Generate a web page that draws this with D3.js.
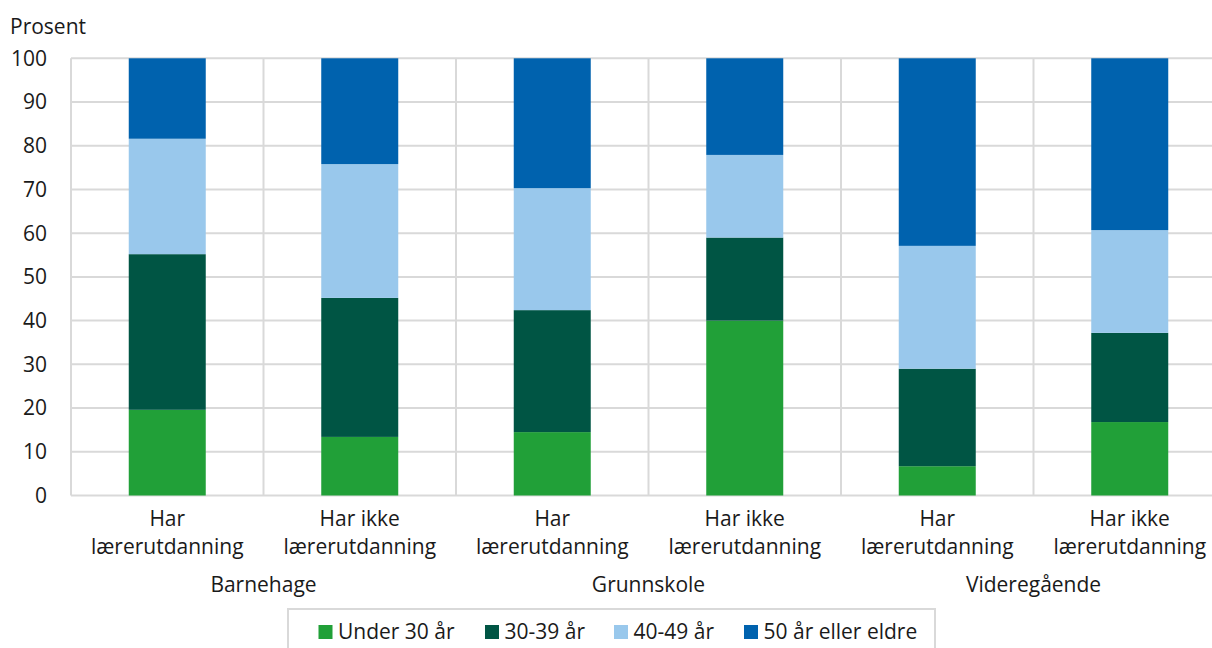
<!DOCTYPE html>
<html>
<head>
<meta charset="utf-8">
<script src="https://cdn.jsdelivr.net/npm/d3@7"></script>
<style>
  html, body { margin: 0; padding: 0; background: #fff; }
  svg { display: block; }
  text { font-family: "Open Sans", sans-serif; fill: #1a1a1a; }
</style>
</head>
<body>
<svg id="chart" width="1212" height="648"></svg>
<script>
const groups = ["Barnehage", "Grunnskole", "Videregående"];
const categories = ["bh-har", "bh-ikke", "gs-har", "gs-ikke", "vg-har", "vg-ikke"];
const categoryLines = [
  ["Har", "lærerutdanning"], ["Har ikke", "lærerutdanning"],
  ["Har", "lærerutdanning"], ["Har ikke", "lærerutdanning"],
  ["Har", "lærerutdanning"], ["Har ikke", "lærerutdanning"]
];
const seriesNames = ["Under 30 år", "30-39 år", "40-49 år", "50 år eller eldre"];
const under30 = [19.6, 13.4, 14.5, 40.0, 6.7, 16.8];
const age30_39 = [35.6, 31.8, 27.9, 19.0, 22.3, 20.4];
const age40_49 = [26.4, 30.6, 27.9, 18.9, 28.1, 23.5];
const age50plus = [18.4, 24.2, 29.7, 22.1, 42.9, 39.3];
const yTicks = [0, 10, 20, 30, 40, 50, 60, 70, 80, 90, 100];
const colors = ["#21a038", "#005544", "#99c8ec", "#0062ae"];

const seriesValues = [under30, age30_39, age40_49, age50plus];
const table = categories.map((c, i) => {
  const row = { cat: c };
  seriesNames.forEach((s, j) => row[s] = seriesValues[j][i]);
  return row;
});

const svg = d3.select("#chart");
const pLeft = 71, pRight = 1226, pTop = 58.3, pBottom = 495.5;
const grid = "#d9d9d9";

const x = d3.scaleBand().domain(categories).range([pLeft, pRight])
  .paddingInner(0.6).paddingOuter(0.3);
const y = d3.scaleLinear().domain([0, 100]).range([pBottom, pTop]);
const step = x.step();

// horizontal gridlines
svg.append("g").selectAll("line").data(yTicks).join("line")
  .attr("x1", pLeft).attr("x2", pRight)
  .attr("y1", d => y(d)).attr("y2", d => y(d))
  .attr("stroke", grid).attr("stroke-width", 2);

// vertical category boundary lines
const bounds = d3.range(categories.length + 1).map(i => pLeft + i * step);
svg.append("g").selectAll("line").data(bounds).join("line")
  .attr("x1", d => d).attr("x2", d => d)
  .attr("y1", y(100)).attr("y2", y(0))
  .attr("stroke", grid).attr("stroke-width", 2);

// y tick labels
svg.append("g").selectAll("text").data(yTicks).join("text")
  .attr("x", 47).attr("y", d => y(d))
  .attr("dy", "0.35em")
  .attr("text-anchor", "end")
  .attr("font-size", 21)
  .text(d => d);

svg.append("text").attr("x", 10).attr("y", 34).attr("font-size", 21).text("Prosent");

// stacked bars
const stack = d3.stack().keys(seriesNames)(table);
svg.append("g").selectAll("g").data(stack).join("g")
  .attr("fill", (d, i) => colors[i])
  .selectAll("rect").data(d => d).join("rect")
  .attr("x", d => x(d.data.cat))
  .attr("width", x.bandwidth())
  .attr("y", d => y(d[1]))
  .attr("height", d => y(d[0]) - y(d[1]));

// category labels
const catG = svg.append("g").selectAll("text").data(categories).join("text")
  .attr("text-anchor", "middle")
  .attr("font-size", 21);
catG.each(function(c, i) {
  const t = d3.select(this);
  const cx = x(c) + x.bandwidth() / 2;
  categoryLines[i].forEach((line, k) => {
    t.append("tspan").attr("x", cx).attr("y", 526 + k * 28).text(line);
  });
});

// group labels
svg.append("g").selectAll("text").data(groups).join("text")
  .attr("x", (d, i) => pLeft + (2 * i + 1) * step)
  .attr("y", 592)
  .attr("text-anchor", "middle")
  .attr("font-size", 21)
  .text(d => d);

// legend
const legend = svg.append("g");
legend.append("rect").attr("x", 288).attr("y", 609).attr("width", 647).attr("height", 50)
  .attr("fill", "#fff").attr("stroke", grid).attr("stroke-width", 2);
const legendX = [318.5, 485, 614, 744];
const li = legend.selectAll("g").data(seriesNames).join("g")
  .attr("transform", (d, i) => `translate(${legendX[i]},0)`);
li.append("rect").attr("x", 0).attr("y", 625).attr("width", 14).attr("height", 14)
  .attr("fill", (d, i) => colors[i]);
li.append("text").attr("x", 19.5).attr("y", 639)
  .attr("font-size", 21).text(d => d);
</script>
</body>
</html>
